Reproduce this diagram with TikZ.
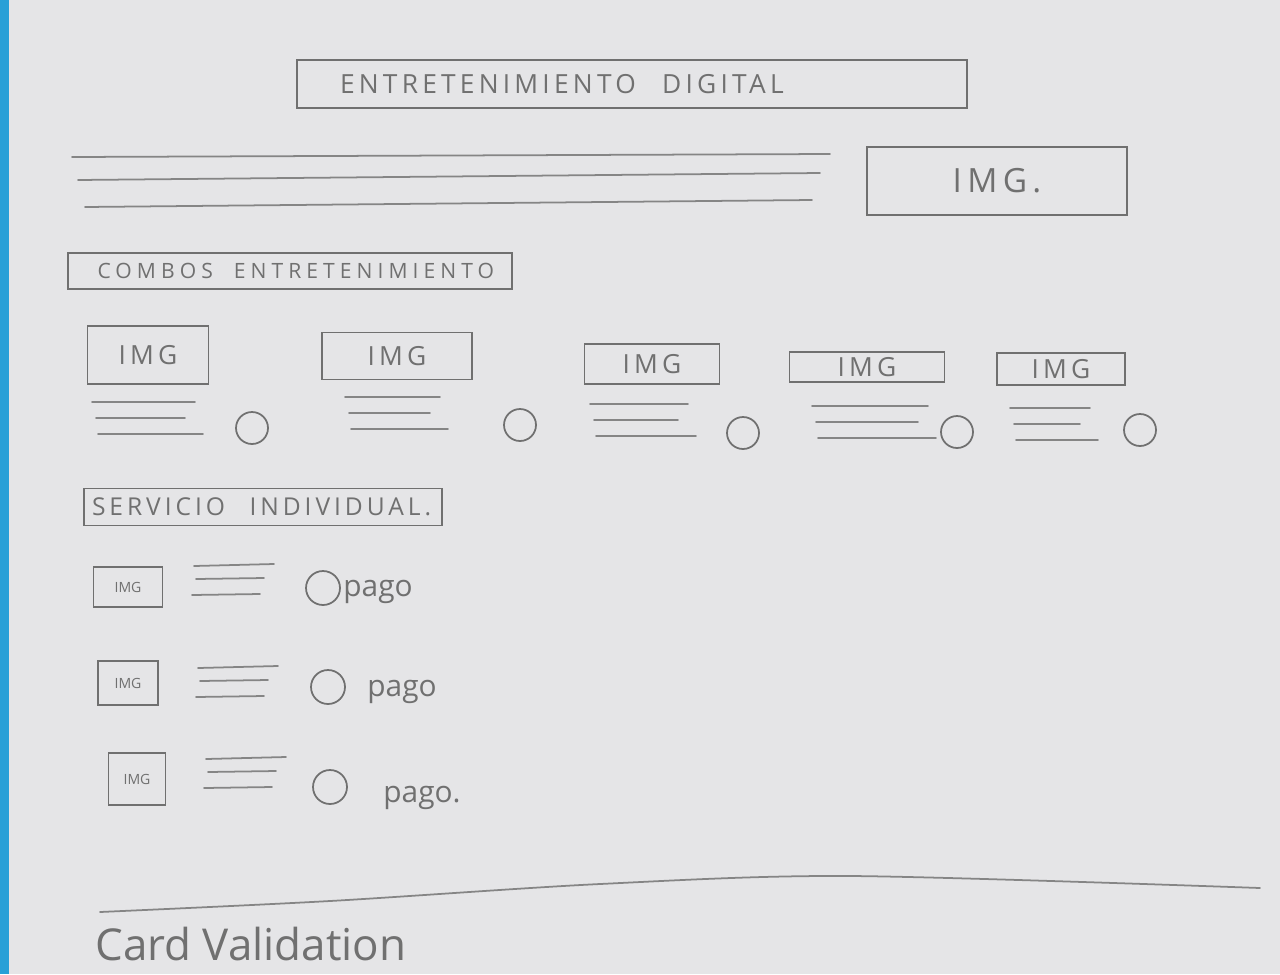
\documentclass[tikz,border=0pt]{standalone}
\usepackage{fontspec}
\setmainfont{Open Sans}
\newfontfamily\widecaps[LetterSpace=16]{Open Sans}
\newfontfamily\widercaps[LetterSpace=24]{Open Sans}
\newfontfamily\capsfont{Open Sans}
\usepackage{tikz}
\usetikzlibrary{positioning}

\definecolor{pencil}{RGB}{112,112,112}
\definecolor{paper}{RGB}{229,229,231}
\definecolor{tape}{RGB}{40,160,215}

\begin{document}
\begin{tikzpicture}[x=0.02cm, y=-0.02cm, line cap=round,
    header/.style={draw=pencil, line width=1.1pt, inner ysep=0pt, inner xsep=0pt, text=pencil, align=left},
    imgbox/.style={draw=pencil, line width=1.1pt, inner sep=0pt, text=pencil},
    radio/.style={circle, draw=pencil, line width=1pt, inner sep=0pt, minimum size=0.64cm},
    textline/.style={draw=pencil!85, line width=1pt},
    hand/.style={text=pencil, inner sep=0pt}]

    % sheet
    \fill[paper] (0,0) rectangle (1280,974);
    \fill[tape] (0,0) rectangle (9,974);
    \useasboundingbox (0,0) rectangle (1280,974);

    % title and intro
    \node[header, minimum height=0.96cm, text width=13.4cm,
          font=\widecaps\fontsize{15}{17}\selectfont] (title) at (632,84)
          {\hspace*{0.86cm}\mbox{ENTRETENIMIENTO\quad DIGITAL}};
    \draw[textline] (72,157) -- (830,154);
    \draw[textline] (78,180) -- (820,173);
    \draw[textline] (85,207) -- (812,200);
    \node[imgbox, minimum width=5.2cm, minimum height=1.36cm,
          font=\widecaps\fontsize{19}{21}\selectfont] (hero) at (997,181) {IMG.};

    % combos
    \node[header, minimum height=0.72cm, text width=8.9cm,
          font=\widercaps\fontsize{12}{14}\selectfont] (combos) at (290,271)
          {\hspace*{0.6cm}\mbox{COMBOS\quad ENTRETENIMIENTO}};

    \foreach \bx/\by/\bw/\bh/\lx/\rx/\ly/\ox/\oy/\name in {
        148/355/121/58/92/195/402/252/428/c1,
        397/356/150/47/345/440/397/520/425/c2,
        652/364/135/40/590/688/404/743/433/c3,
        867/367/155/30/812/928/406/957/432/c4,
        1061/369/128/32/1010/1090/408/1140/430/c5} {
        \node[imgbox, minimum width=\bw*0.02cm, minimum height=\bh*0.02cm,
              font=\widecaps\fontsize{15}{17}\selectfont] (\name) at (\bx,\by) {IMG};
        \draw[textline] (\lx,\ly) -- (\rx,\ly);
        \draw[textline] ({\lx+4},{\ly+16}) -- ({\rx-10},{\ly+16});
        \draw[textline] ({\lx+6},{\ly+32}) -- ({\rx+8},{\ly+32});
        \node[radio] (\name-opt) at (\ox,\oy) {};
    }

    % individual services
    \node[header, minimum height=0.74cm, text width=7.16cm,
          font=\widecaps\fontsize{14}{16}\selectfont] (servicio) at (263,507)
          {\hspace*{0.16cm}\mbox{SERVICIO\quad INDIVIDUAL.}};

    \foreach \bx/\by/\bw/\bh/\lx/\ly/\ox/\oy/\px/\py/\txt/\name in {
        128/587/69/40/194/566/323/588/378/592/pago/s1,
        128/683/60/44/198/668/328/687/402/692/pago/s2,
        137/779/57/52/206/759/330/787/422/798/pago./s3} {
        \node[imgbox, minimum width=\bw*0.02cm, minimum height=\bh*0.02cm,
              font=\capsfont\fontsize{8}{10}\selectfont] (\name) at (\bx,\by) {IMG};
        \draw[textline] (\lx,\ly) -- ({\lx+80},{\ly-2});
        \draw[textline] ({\lx+2},{\ly+13}) -- ({\lx+70},{\ly+12});
        \draw[textline] ({\lx-2},{\ly+29}) -- ({\lx+66},{\ly+28});
        \node[radio, minimum size=0.68cm] (\name-opt) at (\ox,\oy) {};
        \node[hand, font=\fontsize{17}{19}\selectfont] (\name-pago) at (\px,\py) {\txt};
    }

    % footer
    \draw[textline] plot[smooth] coordinates {(100,912) (330,901) (600,884) (850,876) (1260,888)};
    \node[hand, anchor=west, font=\fontsize{25}{28}\selectfont] (card) at (95,944) {Card Validation};
\end{tikzpicture}
\end{document}
